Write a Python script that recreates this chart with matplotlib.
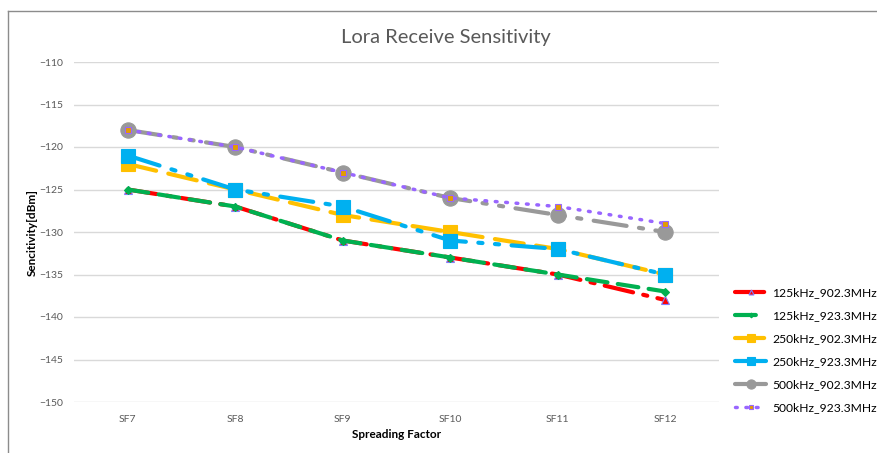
import matplotlib.pyplot as plt
from matplotlib.lines import Line2D
import numpy as np

plt.rcParams['font.family'] = ['Lato', 'DejaVu Sans']

# chart data
spreading_factors = ['SF7', 'SF8', 'SF9', 'SF10', 'SF11', 'SF12']
s125_902 = [-125, -127, -131, -133, -135, -138]
s125_923 = [-125, -127, -131, -133, -135, -137]
s250_902 = [-122, -125, -128, -130, -132, -135]
s250_923 = [-121, -125, -127, -131, -132, -135]
s500_902 = [-118, -120, -123, -126, -128, -130]
s500_923 = [-118, -120, -123, -126, -127, -129]
labels = ['125kHz_902.3MHz', '125kHz_923.3MHz', '250kHz_902.3MHz',
          '250kHz_923.3MHz', '500kHz_902.3MHz', '500kHz_923.3MHz']

fig = plt.figure(figsize=(8.77, 4.53), dpi=100)
ax = fig.add_axes([74 / 877, 1 - 402 / 453, 645 / 877, 340 / 453])

x = np.arange(len(spreading_factors))

# style per series: colour, dash pattern, marker, marker size, marker face, marker edge
styles = [
    ('#FF0000', (0, (7, 2.5, 1, 2.5)), '^', 6, '#FF0000', '#7F7FFF'),
    ('#00B050', (0, (5, 2.5)), 'D', 4, '#00B050', '#00B050'),
    ('#FFC000', (0, (7, 3)), 's', 10, '#FFC000', '#FFC000'),
    ('#00B0F0', (0, (8, 3, 1, 3, 1, 3)), 's', 10, '#00B0F0', '#00B0F0'),
    ('#999999', (0, (8, 3, 1, 3, 1, 3)), 'o', 11, '#999999', '#999999'),
    ('#9966FF', (0, (0.5, 2.5)), 's', 5, '#E39C00', '#9966FF'),
]
series = [s125_902, s125_923, s250_902, s250_923, s500_902, s500_923]
widths = [3, 3, 3, 3, 3, 2.5]

for vals, lab, st, lw in zip(series, labels, styles, widths):
    color, dash, mk, ms, mfc, mec = st
    ax.plot(x, vals, color=color, linestyle=dash, linewidth=lw,
            marker=mk, markersize=ms, markerfacecolor=mfc, markeredgecolor=mec,
            markeredgewidth=0.8, dash_capstyle='round', solid_capstyle='round',
            label=lab)

ax.set_xlim(-0.5, len(spreading_factors) - 0.5)
ax.set_ylim(-150, -110)
ax.set_yticks(np.arange(-150, -109, 5))
ax.set_xticks(x)
ax.set_xticklabels(spreading_factors)
ax.tick_params(axis='both', length=0, labelsize=7.5, labelcolor='#595959')
ax.tick_params(axis='y', pad=8)
ax.tick_params(axis='x', pad=9)
ax.grid(axis='y', color='#D9D9D9', linewidth=1)
for sp in ax.spines.values():
    sp.set_visible(False)
ax.set_axisbelow(True)

ax.set_xlabel('Spreading Factor', fontsize=8.5, fontweight='bold', labelpad=4)
ax.set_ylabel('Sencitivity[dBm]', fontsize=8.5, fontweight='bold', labelpad=0)
ax.yaxis.set_label_coords(-0.056, 0.5)

fig.text(0.508, 1 - 37 / 453, 'Lora Receive Sensitivity', ha='center', va='center',
         fontsize=14.5, color='#595959')

ax.legend(loc='center left', bbox_to_anchor=(730 / 877, 1 - 350 / 453), bbox_transform=fig.transFigure,
          frameon=False, fontsize=8.7, handlelength=2.6, labelspacing=1.0, handletextpad=0.5,
          borderaxespad=0, markerscale=0.6)

# chart border (left and top)
fig.add_artist(Line2D([8 / 877, 8 / 877], [0, 1 - 11 / 453], color='#8C8C8C', linewidth=1,
                      transform=fig.transFigure))
fig.add_artist(Line2D([8 / 877, 1], [1 - 11 / 453, 1 - 11 / 453], color='#8C8C8C', linewidth=1,
                      transform=fig.transFigure))

fig.savefig('out.png', dpi=100)
